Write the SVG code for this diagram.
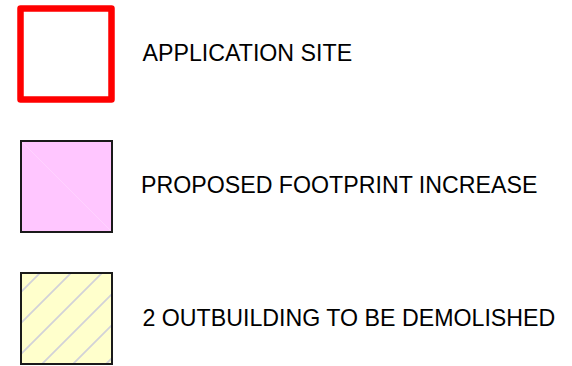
<svg xmlns="http://www.w3.org/2000/svg" width="572" height="366" viewBox="0 0 572 366">
<style>
.lbl{font-family:"Liberation Sans",Arial,sans-serif;font-size:23.2px;fill:#000}
.box{stroke:#1a1a1a;stroke-width:2}
</style>
<defs>
<clipPath id="yclip"><rect x="21" y="273" width="91" height="91"/></clipPath>
</defs>
<rect width="572" height="366" fill="#fff"/>
<g id="application-site">
<rect x="20.5" y="8.5" width="91" height="91" fill="#fff" stroke="#ff0000" stroke-width="6.5" stroke-linejoin="round"/>
<text class="lbl" x="142.5" y="61">APPLICATION SITE</text>
</g>
<g id="proposed-footprint">
<rect class="box" x="21" y="141" width="91" height="91" fill="#ffc6ff"/>
<line x1="22" y1="142" x2="111" y2="231" stroke="#ffd2ff" stroke-width="1"/>
<text class="lbl" x="141" y="193">PROPOSED FOOTPRINT INCREASE</text>
</g>
<g id="outbuilding">
<rect x="21" y="273" width="91" height="91" fill="#ffffcc"/>
<g clip-path="url(#yclip)" stroke="#d2d2d8" stroke-width="1.8">
<line x1="0" y1="313" x2="313" y2="0"/>
<line x1="0" y1="344" x2="344" y2="0"/>
<line x1="0" y1="375" x2="375" y2="0"/>
<line x1="0" y1="406" x2="406" y2="0"/>
<line x1="0" y1="437" x2="437" y2="0"/>
<line x1="0" y1="470" x2="470" y2="0"/>
</g>
<rect class="box" x="21" y="273" width="91" height="91" fill="none"/>
<text class="lbl" x="142.5" y="326">2 OUTBUILDING TO BE DEMOLISHED</text>
</g>
</svg>
